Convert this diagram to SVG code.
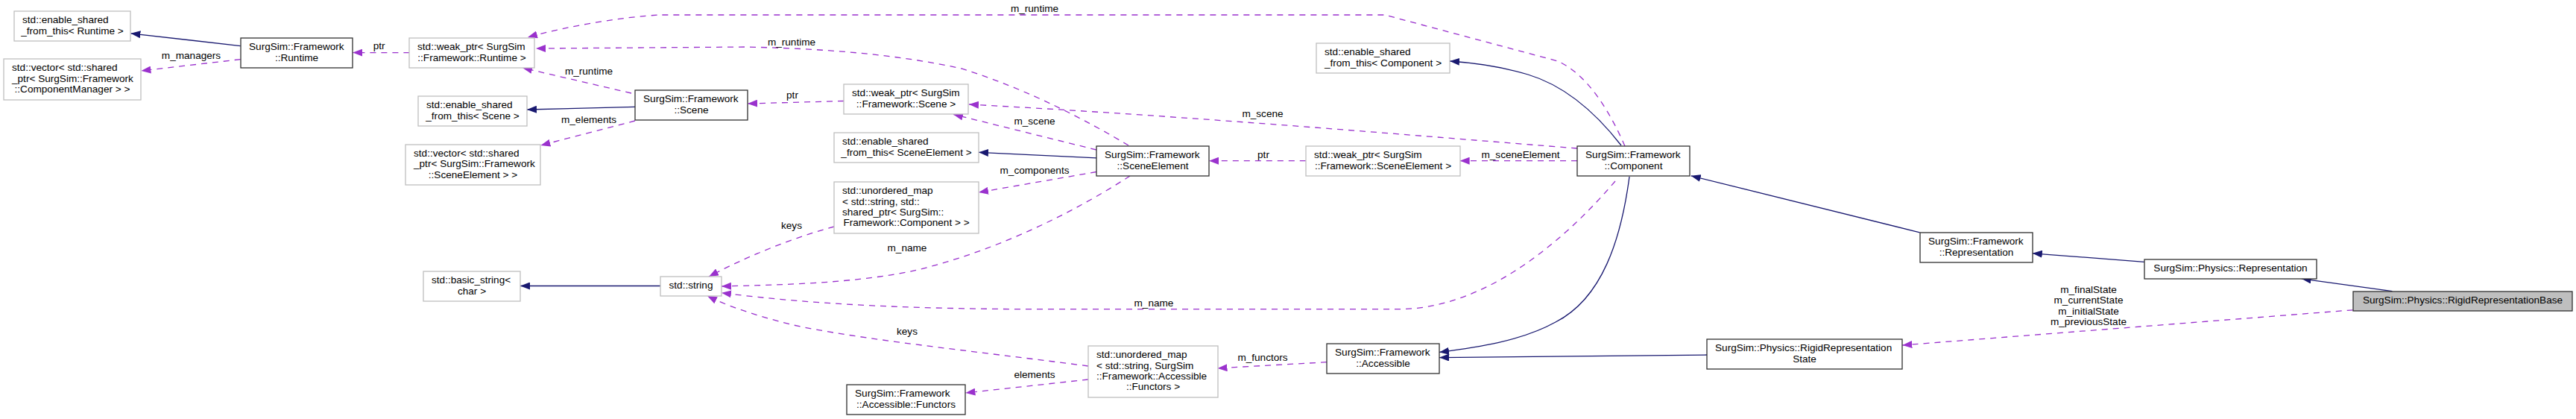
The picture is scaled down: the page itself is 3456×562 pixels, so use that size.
<svg xmlns="http://www.w3.org/2000/svg" width="3456" height="562" viewBox="0 0 3456 562">
<style>
text{font-family:"Liberation Sans",Arial,Helvetica,sans-serif;font-size:13.6px;fill:#000}
.m{text-anchor:middle}
.n rect{fill:#fff;stroke-width:1.3}
.g rect{stroke:#bfbfbf}
.d rect{stroke:#303030}
.b rect{fill:#bfbfbf}
#edges path{fill:none;stroke-width:1.3}
#edges .inh{stroke:#191970;marker-end:url(#ai)}
#edges .use{stroke:#9a32cd;stroke-dasharray:8 7;marker-end:url(#au)}
</style>
<defs>
<marker id="ai" viewBox="0 0 13 10" refX="13" refY="5" markerWidth="13" markerHeight="10" markerUnits="userSpaceOnUse" orient="auto"><path d="M0,0 L13,5 L0,10 Z" style="fill:#191970;stroke:none"/></marker>
<marker id="au" viewBox="0 0 13 10" refX="13" refY="5" markerWidth="13" markerHeight="10" markerUnits="userSpaceOnUse" orient="auto"><path d="M0,0 L13,5 L0,10 Z" style="fill:#9a32cd;stroke:none"/></marker>
</defs>
<rect width="3456" height="562" fill="#fff"/>
<g id="edges">
<path class="inh" d="M322.6,61.6 L175.4,44.8"/>
<path class="use" d="M322.6,79.6 L189.4,95"/>
<path class="use" d="M549.4,70.6 L473.2,70.6"/>
<path class="use" d="M2180,196 C2160,150 2130,100 2090,82 L1858,20 L886,20 C840,22 760,35 708,50"/>
<path class="use" d="M1514,195 C1460,163 1380,120 1290,92 C1200,72 1100,65 1000,63 L719,65"/>
<path class="use" d="M847,125 L701,91"/>
<path class="inh" d="M852,143.4 L707,147"/>
<path class="use" d="M852,162 L725.4,195"/>
<path class="use" d="M1132,135.5 L1003,139"/>
<path class="use" d="M1471,201 L1279,153.4"/>
<path class="use" d="M2116,199 C1900,182 1600,156 1300,140"/>
<path class="inh" d="M1471,211.8 L1313,204.3"/>
<path class="use" d="M1471,230.5 L1313,258"/>
<path class="use" d="M1516,236 C1440,285 1340,335 1231,362 C1150,380 1050,382 968,384"/>
<path class="use" d="M2167,243 C2110,310 2000,414.7 1876,414.7 L1400,414.7 C1250,414.7 1100,410 968,392.7"/>
<path class="use" d="M1119,304 C1060,320 1000,345 951,371"/>
<path class="use" d="M1460,491 C1300,470 1150,455 1060,435 C1010,422 975,410 949,397"/>
<path class="use" d="M1460,509 L1295.4,527"/>
<path class="use" d="M1780,485.7 L1633.5,493.9"/>
<path class="inh" d="M886.3,383.5 L698,383.5"/>
<path class="inh" d="M2175,195 C2140,150 2100,115 2050,100 C2010,88 1975,84 1945,82"/>
<path class="inh" d="M2186,237 C2175,320 2150,400 2087,432 C2040,458 1980,466 1931,472.4"/>
<path class="inh" d="M2290.5,476 L1931,479.6"/>
<path class="inh" d="M2575.6,311.8 L2268.7,235.8"/>
<path class="inh" d="M2876.8,351.3 L2726.8,339.8"/>
<path class="inh" d="M3209.5,390.7 L3087.7,373.8"/>
<path class="use" d="M3156.7,415.8 L2552.3,463"/>
<path class="use" d="M1751.8,215.7 L1622,215.7"/>
<path class="use" d="M2116,215.7 L1958.6,215.7"/>
<g class="lbl">
<text class="m" x="256.5" y="78.9">m_managers</text>
<text class="m" x="508.7" y="66.3">ptr</text>
<text class="m" x="1388" y="16.1">m_runtime</text>
<text class="m" x="1062" y="60.5">m_runtime</text>
<text class="m" x="790" y="99.6">m_runtime</text>
<text class="m" x="790" y="164.9">m_elements</text>
<text class="m" x="1063" y="131.9">ptr</text>
<text class="m" x="1388" y="167">m_scene</text>
<text class="m" x="1694" y="157">m_scene</text>
<text class="m" x="1388" y="233">m_components</text>
<text class="m" x="1695" y="211.5">ptr</text>
<text class="m" x="2040" y="211.5">m_sceneElement</text>
<text class="m" x="1062" y="307">keys</text>
<text class="m" x="1217" y="337">m_name</text>
<text class="m" x="1548" y="411">m_name</text>
<text class="m" x="1217" y="449">keys</text>
<text class="m" x="1388" y="507">elements</text>
<text class="m" x="1694" y="484">m_functors</text>
<text class="m" x="2802" y="392.5">m_finalState</text>
<text class="m" x="2802" y="407">m_currentState</text>
<text class="m" x="2802" y="421.5">m_initialState</text>
<text class="m" x="2802" y="436">m_previousState</text>
</g>
</g>
<g id="n1" class="n g"><rect x="19" y="15" width="156" height="40"/><text x="30" y="31.1">std::enable_shared</text><text class="m" x="97" y="45.5">_from_this&lt; Runtime &gt;</text></g>
<g id="n2" class="n g"><rect x="5" y="79" width="184" height="55"/><text x="16" y="95.4">std::vector&lt; std::shared</text><text x="16" y="109.8">_ptr&lt; SurgSim::Framework</text><text class="m" x="97" y="124.2">::ComponentManager &gt; &gt;</text></g>
<g id="n3" class="n d"><rect x="323" y="51" width="150" height="40"/><text x="334" y="67.1">SurgSim::Framework</text><text class="m" x="398" y="81.5">::Runtime</text></g>
<g id="n4" class="n g"><rect x="549" y="51" width="168" height="40"/><text x="560" y="67.1">std::weak_ptr&lt; SurgSim</text><text class="m" x="633" y="81.5">::Framework::Runtime &gt;</text></g>
<g id="n5" class="n g"><rect x="561" y="129" width="146" height="40"/><text x="572" y="145.1">std::enable_shared</text><text class="m" x="634" y="159.5">_from_this&lt; Scene &gt;</text></g>
<g id="n6" class="n g"><rect x="544" y="194" width="181" height="54"/><text x="555" y="209.9">std::vector&lt; std::shared</text><text x="555" y="224.3">_ptr&lt; SurgSim::Framework</text><text class="m" x="634.5" y="238.7">::SceneElement &gt; &gt;</text></g>
<g id="n7" class="n g"><rect x="568" y="364" width="130" height="40"/><text x="579" y="380.1">std::basic_string&lt;</text><text class="m" x="633" y="394.5">char &gt;</text></g>
<g id="n8" class="n g"><rect x="886" y="371" width="82" height="26"/><text class="m" x="927" y="387.3">std::string</text></g>
<g id="n9" class="n d"><rect x="852" y="121" width="151" height="40"/><text x="863" y="137.1">SurgSim::Framework</text><text class="m" x="927.5" y="151.5">::Scene</text></g>
<g id="n10" class="n g"><rect x="1132" y="113" width="167" height="40"/><text x="1143" y="129.1">std::weak_ptr&lt; SurgSim</text><text class="m" x="1215.5" y="143.5">::Framework::Scene &gt;</text></g>
<g id="n11" class="n g"><rect x="1119" y="178" width="194" height="40"/><text x="1130" y="194.1">std::enable_shared</text><text class="m" x="1216" y="208.5">_from_this&lt; SceneElement &gt;</text></g>
<g id="n12" class="n g"><rect x="1119" y="244" width="194" height="69"/><text x="1130" y="260.2">std::unordered_map</text><text x="1130" y="274.6">&lt; std::string, std::</text><text x="1130" y="289">shared_ptr&lt; SurgSim::</text><text class="m" x="1216" y="303.4">Framework::Component &gt; &gt;</text></g>
<g id="n13" class="n d"><rect x="1471" y="196" width="151" height="40"/><text x="1482" y="212.1">SurgSim::Framework</text><text class="m" x="1546.5" y="226.5">::SceneElement</text></g>
<g id="n14" class="n d"><rect x="1136" y="516" width="159" height="40"/><text x="1147" y="532.1">SurgSim::Framework</text><text class="m" x="1215.5" y="546.5">::Accessible::Functors</text></g>
<g id="n15" class="n g"><rect x="1460" y="464" width="174" height="69"/><text x="1471" y="480.2">std::unordered_map</text><text x="1471" y="494.6">&lt; std::string, SurgSim</text><text x="1471" y="509">::Framework::Accessible</text><text class="m" x="1547" y="523.4">::Functors &gt;</text></g>
<g id="n16" class="n g"><rect x="1766" y="58" width="179" height="40"/><text x="1777" y="74.1">std::enable_shared</text><text class="m" x="1855.5" y="88.5">_from_this&lt; Component &gt;</text></g>
<g id="n17" class="n g"><rect x="1752" y="196" width="207" height="40"/><text x="1763" y="212.1">std::weak_ptr&lt; SurgSim</text><text class="m" x="1855.5" y="226.5">::Framework::SceneElement &gt;</text></g>
<g id="n18" class="n d"><rect x="2116" y="196" width="151" height="40"/><text x="2127" y="212.1">SurgSim::Framework</text><text class="m" x="2191.5" y="226.5">::Component</text></g>
<g id="n19" class="n d"><rect x="1780" y="461" width="151" height="40"/><text x="1791" y="477.1">SurgSim::Framework</text><text class="m" x="1855.5" y="491.5">::Accessible</text></g>
<g id="n20" class="n d"><rect x="2576" y="312" width="151" height="40"/><text x="2587" y="328.1">SurgSim::Framework</text><text class="m" x="2651.5" y="342.5">::Representation</text></g>
<g id="n21" class="n d"><rect x="2290" y="455" width="262" height="40"/><text x="2301" y="471.1">SurgSim::Physics::RigidRepresentation</text><text class="m" x="2421" y="485.5">State</text></g>
<g id="n22" class="n d"><rect x="2877" y="348" width="231" height="26"/><text class="m" x="2992.5" y="364.3">SurgSim::Physics::Representation</text></g>
<g id="n23" class="n d b"><rect x="3157" y="391" width="294" height="26"/><text class="m" x="3304" y="407.3">SurgSim::Physics::RigidRepresentationBase</text></g>
</svg>
